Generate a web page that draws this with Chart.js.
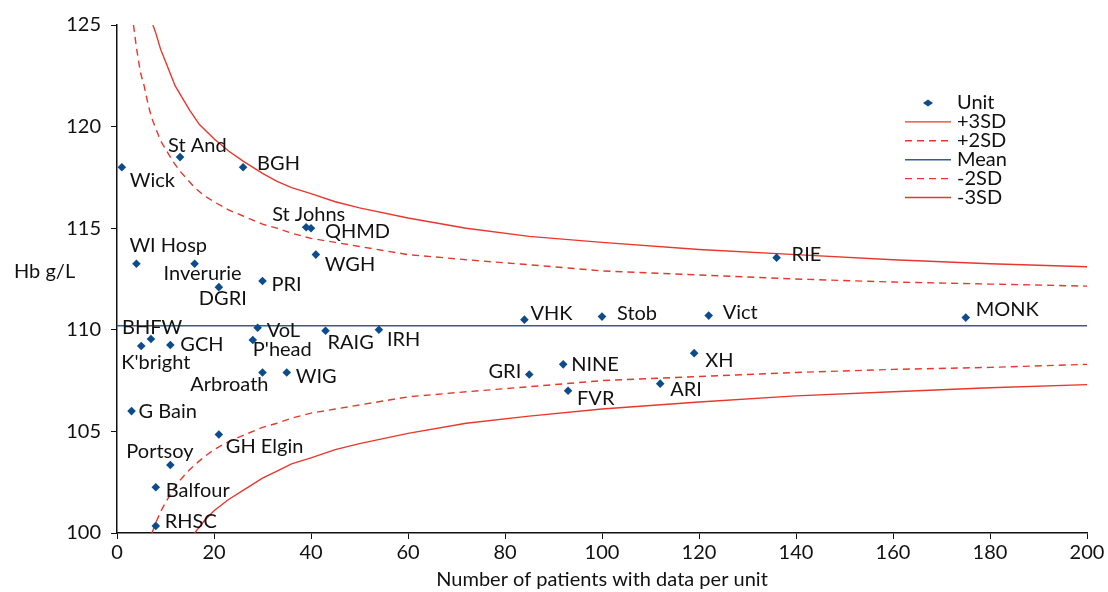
<!DOCTYPE html>
<html>
<head>
<meta charset="utf-8">
<script src="https://cdn.jsdelivr.net/npm/chart.js@4.4.0/dist/chart.umd.min.js"></script>
<style>
  html, body { margin: 0; padding: 0; background: #fff; }
  #wrap { width: 1108px; height: 592px; }
</style>
</head>
<body>
<div id="wrap"><canvas id="grafico" width="1108" height="592"></canvas></div>
<script>
// Dados
const unidades = ['Wick', 'St And', 'BGH', 'St Johns', 'QHMD', 'WGH', 'WI Hosp', 'Inverurie', 'DGRI', 'PRI',
  'BHFW', "K'bright", 'GCH', 'VoL', "P'head", 'RAIG', 'IRH', 'Arbroath', 'WIG', 'G Bain',
  'GH Elgin', 'Portsoy', 'Balfour', 'RHSC', 'VHK', 'Stob', 'Vict', 'MONK', 'RIE', 'GRI',
  'NINE', 'FVR', 'ARI', 'XH'];
const pacientes = [1, 13, 26, 39, 40, 41, 4, 16, 21, 30,
  7, 5, 11, 29, 28, 43, 54, 30, 35, 3,
  21, 11, 8, 8, 84, 100, 122, 175, 136, 85,
  92, 93, 112, 119];
const hb = [118.0, 118.5, 118.0, 115.05, 115.0, 113.7, 113.25, 113.25, 112.1, 112.4,
  109.55, 109.2, 109.25, 110.1, 109.5, 109.95, 110.0, 107.9, 107.9, 106.0,
  104.85, 103.35, 102.25, 100.35, 110.5, 110.65, 110.7, 110.6, 113.55, 107.8,
  108.3, 107.0, 107.35, 108.85];

const media = 110.2;
const mediaN = [0, 200];

const mais3N = [7.4, 8, 9, 10, 11, 12, 13, 15, 17, 20, 23, 26, 30, 33, 36, 40, 45, 50, 60, 72, 85, 100, 120, 140, 160, 180, 200];
const mais3Y = [125, 124.6, 123.8, 123.2, 122.6, 122.0, 121.6, 120.8, 120.1, 119.4, 118.8, 118.3, 117.7, 117.3, 117.0, 116.7, 116.3, 116.0, 115.5, 115.0, 114.6, 114.3, 113.95, 113.7, 113.45, 113.25, 113.1];

const mais2N = [3.4, 4, 4.8, 5.6, 6.5, 7.2, 8, 9, 10, 11.5, 13, 14.5, 16, 18, 20, 23, 26, 30, 33, 36, 40, 45, 50, 60, 72, 85, 100, 120, 140, 160, 180, 200];
const mais2Y = [125, 123.9, 122.7, 122.0, 121.0, 120.4, 119.9, 119.3, 118.9, 118.3, 117.8, 117.4, 117.0, 116.6, 116.3, 115.9, 115.6, 115.2, 115.0, 114.75, 114.5, 114.3, 114.1, 113.7, 113.45, 113.2, 112.9, 112.7, 112.5, 112.35, 112.25, 112.15];

const menos2N = [7.2, 8, 9, 10, 11.5, 13, 14.5, 16, 18, 20, 23, 26, 30, 33, 36, 40, 45, 50, 60, 72, 85, 100, 120, 140, 160, 180, 200];
const menos2Y = [100, 100.5, 101.05, 101.5, 102.1, 102.6, 103.0, 103.35, 103.75, 104.1, 104.5, 104.8, 105.2, 105.4, 105.65, 105.9, 106.1, 106.3, 106.7, 106.95, 107.2, 107.5, 107.7, 107.9, 108.05, 108.15, 108.3];

const menos3N = [16, 17, 18, 20, 23, 26, 30, 33, 36, 40, 45, 50, 60, 72, 85, 100, 120, 140, 160, 180, 200];
const menos3Y = [100, 100.3, 100.6, 101.1, 101.65, 102.1, 102.7, 103.05, 103.4, 103.7, 104.1, 104.4, 104.9, 105.4, 105.75, 106.1, 106.45, 106.75, 106.95, 107.15, 107.3];

const xTicks = [0, 20, 40, 60, 80, 100, 120, 140, 160, 180, 200];
const yTicks = [100, 105, 110, 115, 120, 125];

const AZUL = '#0d4c8c';
const AZUL_MEDIA = '#2f5f98';
const VERMELHO = '#e8372c';
const FONTE = 'Lato, "Open Sans", sans-serif';

// posição dos rótulos em relação ao ponto (dx, dy, alinhamento)
const posRotulo = {
  'Wick': [8, 13, 'left'], 'St And': [-12, -12, 'left'], 'BGH': [14, -4, 'left'],
  'St Johns': [-34, -13, 'left'], 'QHMD': [14, 3, 'left'], 'WGH': [9, 10, 'left'],
  'WI Hosp': [-7, -18, 'left'], 'Inverurie': [-31, 10, 'left'], 'DGRI': [-20, 11, 'left'],
  'PRI': [9, 4, 'left'], 'BHFW': [-29, -11, 'left'], "K'bright": [-20, 16, 'left'],
  'GCH': [10, 0, 'left'], 'VoL': [9, 3, 'left'], "P'head": [0, 10, 'left'],
  'RAIG': [2, 12, 'left'], 'IRH': [8, 10, 'left'], 'Arbroath': [6, 12, 'right'],
  'WIG': [9, 4, 'left'], 'G Bain': [7, 0, 'left'], 'GH Elgin': [7, 12, 'left'],
  'Portsoy': [-44, -13, 'left'], 'Balfour': [10, 3, 'left'], 'RHSC': [9, -4, 'left'],
  'VHK': [6, -6, 'left'], 'Stob': [15, -3, 'left'], 'Vict': [14, -3, 'left'],
  'MONK': [10, -8, 'left'], 'RIE': [15, -3, 'left'], 'GRI': [-8, -3, 'right'],
  'NINE': [8, 0, 'left'], 'FVR': [9, 8, 'left'], 'ARI': [10, 6, 'left'], 'XH': [11, 7, 'left']
};

function montarPontos(xs, ys) {
  return xs.map((x, i) => ({ x: x, y: ys[i] }));
}

function losango(ctx, cx, cy) {
  ctx.beginPath();
  ctx.moveTo(cx - 5, cy);
  ctx.lineTo(cx, cy - 3.6);
  ctx.lineTo(cx + 5, cy);
  ctx.lineTo(cx, cy + 3.6);
  ctx.closePath();
  ctx.fill();
}

const pluginRotulos = {
  id: 'rotulos',
  afterDatasetsDraw(chart) {
    const ctx = chart.ctx;
    const meta = chart.getDatasetMeta(0);
    ctx.save();
    ctx.font = '20px ' + FONTE;
    ctx.fillStyle = '#111';
    ctx.textBaseline = 'middle';
    meta.data.forEach((el, i) => {
      const nome = unidades[i];
      const p = posRotulo[nome] || [8, 0, 'left'];
      ctx.textAlign = p[2];
      ctx.fillText(nome, el.x + p[0], el.y + p[1]);
    });

    // título do eixo y (horizontal)
    ctx.textAlign = 'left';
    ctx.fillText('Hb g/L', 14, 272);

    // legenda
    const lx = 905, ty = 103, passo = 18.9;
    chart.data.datasets.forEach((ds, i) => {
      const y = ty + i * passo;
      if (i === 0) {
        ctx.fillStyle = AZUL;
        losango(ctx, 928, y);
      } else {
        ctx.strokeStyle = ds.borderColor;
        ctx.lineWidth = ds.borderWidth;
        ctx.setLineDash(ds.borderDash || []);
        ctx.beginPath();
        ctx.moveTo(lx, y);
        ctx.lineTo(lx + 46, y);
        ctx.stroke();
        ctx.setLineDash([]);
      }
      ctx.fillStyle = '#111';
      ctx.fillText(ds.label, 957, y);
    });
    ctx.restore();
  }
};

function linha(rotulo, pontos, cor, tracejado) {
  return {
    label: rotulo,
    data: pontos,
    showLine: true,
    borderColor: cor,
    borderWidth: 1.4,
    borderDash: tracejado ? [7, 5] : [],
    pointRadius: 0,
    tension: 0,
    fill: false
  };
}

new Chart(document.getElementById('grafico'), {
  type: 'scatter',
  data: {
    datasets: [
      {
        label: 'Unit',
        data: montarPontos(pacientes, hb),
        pointStyle: 'rectRot',
        pointRadius: 4.3,
        backgroundColor: AZUL,
        borderColor: AZUL,
        borderWidth: 0,
        showLine: false
      },
      linha('+3SD', montarPontos(mais3N, mais3Y), VERMELHO, false),
      linha('+2SD', montarPontos(mais2N, mais2Y), VERMELHO, true),
      linha('Mean', mediaN.map(n => ({ x: n, y: media })), AZUL_MEDIA, false),
      linha('-2SD', montarPontos(menos2N, menos2Y), VERMELHO, true),
      linha('-3SD', montarPontos(menos3N, menos3Y), VERMELHO, false)
    ]
  },
  options: {
    responsive: false,
    animation: false,
    layout: { padding: { top: 25, right: 21, left: 0, bottom: 0 } },
    plugins: {
      legend: { display: false },
      tooltip: { enabled: false }
    },
    scales: {
      x: {
        type: 'linear',
        min: 0,
        max: 200,
        afterBuildTicks(scale) { scale.ticks = xTicks.map(v => ({ value: v })); },
        afterFit(scale) { scale.height = 59; },
        ticks: { color: '#111', font: { family: FONTE, size: 20 }, padding: 2, maxRotation: 0 },
        grid: { drawOnChartArea: false, drawTicks: true, tickLength: 6, color: '#111' },
        border: { color: '#111', width: 1.5 },
        title: {
          display: true,
          text: 'Number of patients with data per unit',
          color: '#111',
          font: { family: FONTE, size: 20 },
          padding: { top: 0, bottom: 0 }
        }
      },
      y: {
        type: 'linear',
        min: 100,
        max: 125,
        afterBuildTicks(scale) { scale.ticks = yTicks.map(v => ({ value: v })); },
        afterFit(scale) { scale.width = 117; },
        ticks: { color: '#111', font: { family: FONTE, size: 20 }, padding: 10 },
        grid: { drawOnChartArea: false, drawTicks: true, tickLength: 6, color: '#111' },
        border: { color: '#111', width: 1.5 }
      }
    }
  },
  plugins: [pluginRotulos]
});
</script>
</body>
</html>
